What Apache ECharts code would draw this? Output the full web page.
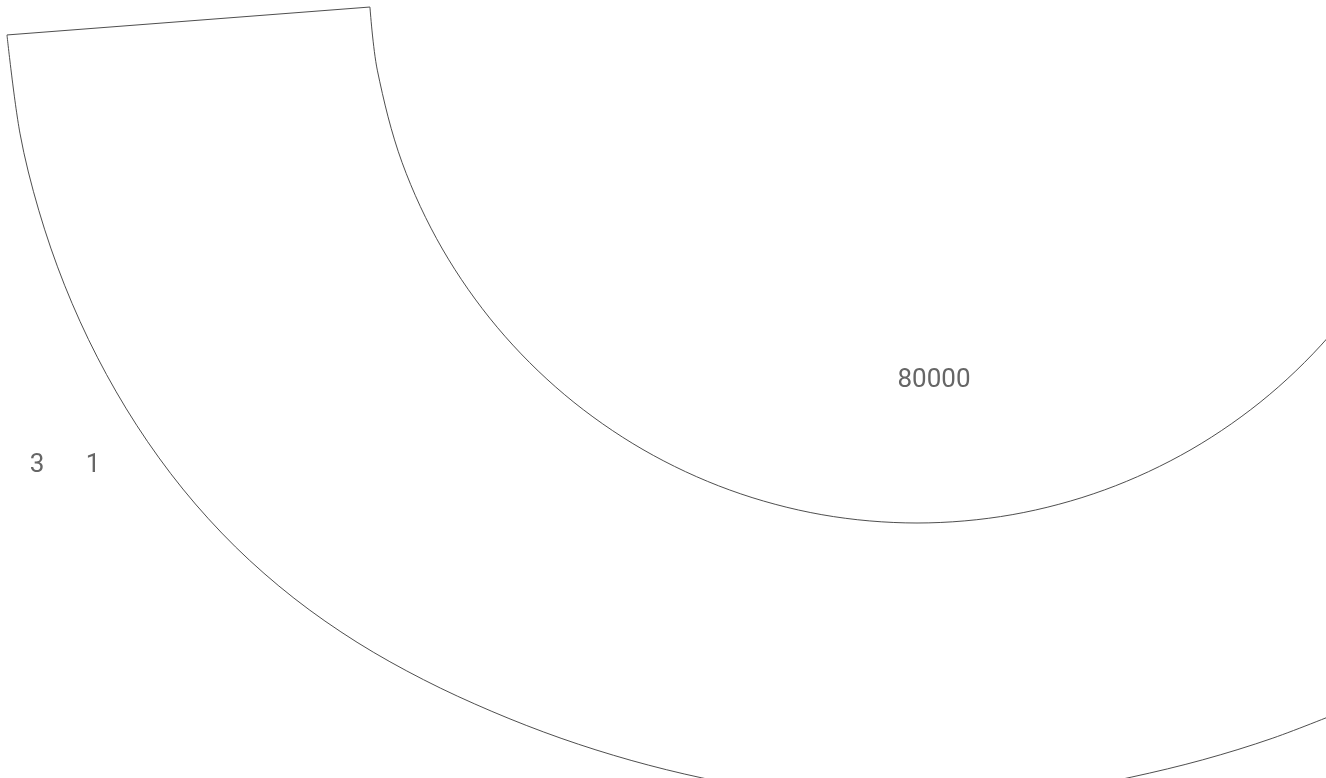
<!DOCTYPE html>
<html>
<head>
<meta charset="utf-8">
<script src="https://cdn.jsdelivr.net/npm/echarts@6/dist/echarts.min.js"></script>
<style>
html,body{margin:0;padding:0;background:#fff;}
#main{width:1326px;height:778px;}
</style>
</head>
<body>
<div id="main"></div>
<script>
// Outer boundary of the band (angle in degrees, radius in px units)
const outerAngle  = [183.77, 190, 195, 200, 205, 210, 215, 220, 225, 230, 235, 240, 245, 250, 255, 260, 265, 270, 275, 280, 285, 290, 295, 300];
const outerRadius = [912, 910.9, 909.2, 907.1, 904.4, 900.9, 896.2, 889.7, 881.2, 871.1, 860.3, 850.3, 842.2, 835.8, 831.2, 828.3, 826.9, 826.5, 826.9, 828.3, 830.3, 835.2, 842, 850.3];
// Inner boundary (circular arc)
const innerAngle  = [183.35, 190, 200, 210, 220, 230, 240, 250, 260, 270, 280, 290, 300, 310, 320, 330];
const innerRadius = [548, 548, 548, 548, 548, 548, 548, 548, 548, 548, 548, 548, 548, 548, 548, 548];
// Straight radial edge
const edgeAngle  = [183.77, 183.35];
const edgeRadius = [912, 548];
// Text labels
const labelTexts = ['3', '1', '80000'];

function pairs(r, a) { return r.map((v, i) => [v, a[i]]); }

const chart = echarts.init(document.getElementById('main'));
const lineStyle = { color: '#3a3a3a', width: 0.9 };
chart.setOption({
  animation: false,
  backgroundColor: '#fff',
  polar: { center: [917, -25], radius: 1000 },
  angleAxis: { type: 'value', min: 0, max: 360, startAngle: 0, clockwise: false, show: false },
  radiusAxis: { type: 'value', min: 0, max: 1000, show: false },
  series: [
    { type: 'line', coordinateSystem: 'polar', smooth: 0.33, symbol: 'none', lineStyle: lineStyle,
      data: pairs(outerRadius, outerAngle) },
    { type: 'line', coordinateSystem: 'polar', smooth: 0.33, symbol: 'none', lineStyle: lineStyle,
      data: pairs(innerRadius, innerAngle) },
    { type: 'line', coordinateSystem: 'polar', smooth: false, symbol: 'none', lineStyle: lineStyle,
      data: pairs(edgeRadius, edgeAngle) }
  ],
  graphic: [
    { type: 'text', x: 37, y: 465, style: { text: labelTexts[0], fill: '#666', font: '26px Roboto', align: 'center', verticalAlign: 'middle' } },
    { type: 'text', x: 93, y: 465, style: { text: labelTexts[1], fill: '#666', font: '26px Roboto', align: 'center', verticalAlign: 'middle' } },
    { type: 'text', x: 934, y: 380, style: { text: labelTexts[2], fill: '#666', font: '26px Roboto', align: 'center', verticalAlign: 'middle' } }
  ]
});
</script>
</body>
</html>
